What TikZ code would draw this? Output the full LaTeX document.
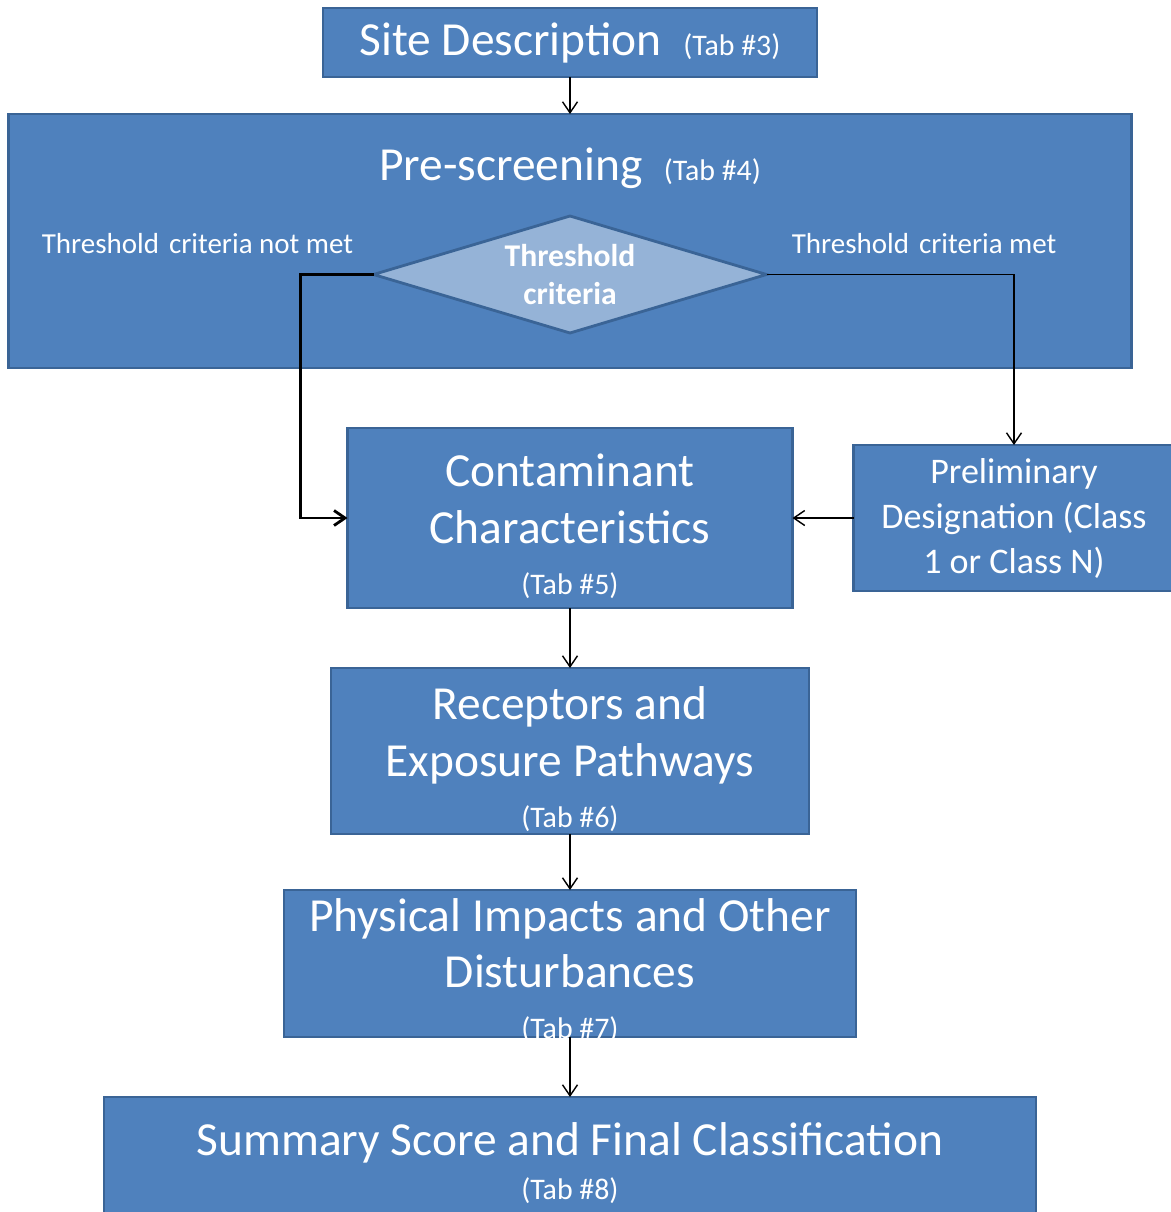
\documentclass[tikz,border=0pt]{standalone}
\usepackage{fontspec}
\setmainfont{Carlito}
\usetikzlibrary{shapes.geometric,arrows.meta,positioning}
\definecolor{boxblue}{HTML}{4F81BD}
\definecolor{boxedge}{HTML}{3A6496}
\definecolor{diafill}{HTML}{95B3D7}
\newcommand{\tabno}[1]{{\fontsize{17}{20}\selectfont(Tab \##1)}}
\newcommand{\topgap}{\rule{0pt}{28pt}}
\tikzstyle{stage} = [rectangle, draw=boxedge, line width=1.3pt, fill=boxblue, text=white, align=center, inner sep=0pt, outer sep=0pt, font=\fontsize{27}{32}\selectfont]
\tikzstyle{stagetext} = [text=white, align=center, inner sep=0pt, font=\fontsize{27}{32}\selectfont]
\tikzstyle{decision} = [diamond, aspect=3.36, draw=boxedge, line width=1.6pt, fill=diafill, text=white, align=center, inner sep=0pt, outer sep=0pt, font=\bfseries\fontsize{18}{22}\selectfont]
\tikzstyle{note} = [text=white, inner sep=0pt, font=\fontsize{16.5}{19}\selectfont]
\tikzstyle{arrow} = [line width=0.8pt, -{Straight Barb[length=2.2mm,width=3mm]}]
\tikzstyle{thickarrow} = [arrow, line width=1.6pt]
\begin{document}
\begin{tikzpicture}
\useasboundingbox (0,0) rectangle (23.4,-24.24);
% main column
\node (site) [stage, minimum width=9.88cm, minimum height=1.38cm] at (11.4,-0.85) {Site Description\hspace{0.45em}\tabno{3}};
\node (pre) [stage, minimum width=22.46cm, minimum height=5.08cm, below=0.74cm of site] {};
\node (pretitle) [stagetext, below=0.68cm of pre.north] {Pre-screening\hspace{0.45em}\tabno{4}};
\node (dia) [decision, minimum width=7.86cm, minimum height=2.34cm, below=2.04cm of pre.north] {Threshold\\criteria};
\node (notmet) [note, above left=0.4cm and 0.4cm of dia.west] {Threshold\hspace{0.12em} criteria not met};
\node (met) [note, above right=0.4cm and 0.5cm of dia.east] {Threshold\hspace{0.12em} criteria met};
\node (contam) [stage, minimum width=8.9cm, minimum height=3.6cm, below=1.2cm of pre] {\topgap Contaminant\\Characteristics\\[-3pt]\tabno{5}};
\node (prelim) [stage, minimum width=6.42cm, minimum height=2.92cm, font=\fontsize{20.5}{25.6}\selectfont, right=1.22cm of contam] {Preliminary\\Designation (Class\\1 or Class N)};
\node (recep) [stage, minimum width=9.56cm, minimum height=3.32cm, below=1.2cm of contam] {\topgap Receptors and\\Exposure Pathways\\[-3pt]\tabno{6}};
\node (phys) [stage, minimum width=11.44cm, minimum height=2.94cm, below=1.12cm of recep] {};
\node (physlabel) [stagetext, yshift=-0.14cm] at (phys) {Physical Impacts and Other\\Disturbances\\[-3pt]\tabno{7}};
\node (summ) [stage, minimum width=18.64cm, minimum height=2.64cm, below=1.2cm of phys] {Summary Score and Final Classification\\[-7pt]\tabno{8}};
% connectors
\draw [arrow] (site) -- (pre);
\draw [thickarrow] (dia.west) -- ++(-1.46,0) |- (contam.west);
\draw [arrow] (dia.east) -| (prelim.north);
\draw [arrow] (prelim) -- (contam);
\draw [arrow] (contam) -- (recep);
\draw [arrow] (recep) -- (phys);
\draw [arrow] (phys) -- (summ);
\end{tikzpicture}
\end{document}
